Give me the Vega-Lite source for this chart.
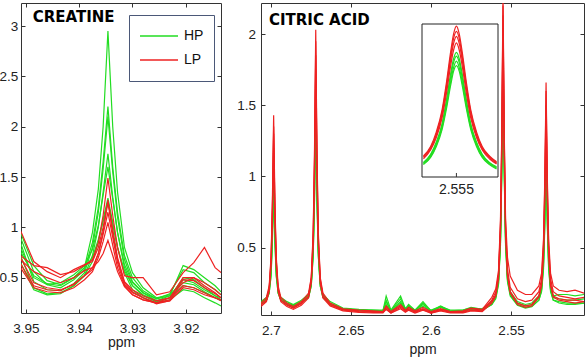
{
"$schema": "https://vega.github.io/schema/vega-lite/v6.json",
"background": "white",
"padding": {"left": -2, "top": 2, "right": 0, "bottom": 0},
"bounds": "flush",
"spacing": 40,
"config": {
  "view": {"stroke": "#333333", "strokeWidth": 1},
  "axis": {"labelFont": "Liberation Sans", "labelFontSize": 13.5, "labelColor": "#222222", "titleFont": "Liberation Sans", "titleFontSize": 14, "titleFontWeight": "normal", "titleColor": "#222222", "domain": false, "grid": false, "tickColor": "#333333", "tickSize": -4, "tickWidth": 1, "labelFlush": false}
},
"resolve": {"scale": {"color": "independent"}, "legend": {"color": "independent"}},
"datasets": {
"creatine": [
{"g":"HP","s":"G1","x":3.951,"y":0.95},{"g":"HP","s":"G1","x":3.9485,"y":0.62},{"g":"HP","s":"G1","x":3.946,"y":0.47},{"g":"HP","s":"G1","x":3.9435,"y":0.43},{"g":"HP","s":"G1","x":3.941,"y":0.5},{"g":"HP","s":"G1","x":3.939,"y":0.6},{"g":"HP","s":"G1","x":3.9375,"y":0.95},{"g":"HP","s":"G1","x":3.9364,"y":1.38},{"g":"HP","s":"G1","x":3.9355,"y":2.0},{"g":"HP","s":"G1","x":3.9346,"y":2.95},{"g":"HP","s":"G1","x":3.9337,"y":2.0},{"g":"HP","s":"G1","x":3.9328,"y":1.35},{"g":"HP","s":"G1","x":3.9315,"y":0.8},{"g":"HP","s":"G1","x":3.93,"y":0.55},{"g":"HP","s":"G1","x":3.928,"y":0.4},{"g":"HP","s":"G1","x":3.9255,"y":0.3},{"g":"HP","s":"G1","x":3.923,"y":0.33},{"g":"HP","s":"G1","x":3.9205,"y":0.45},{"g":"HP","s":"G1","x":3.9185,"y":0.43},{"g":"HP","s":"G1","x":3.9165,"y":0.36},{"g":"HP","s":"G1","x":3.9145,"y":0.3},{"g":"HP","s":"G1","x":3.9134,"y":0.28},
{"g":"HP","s":"G2","x":3.951,"y":0.9},{"g":"HP","s":"G2","x":3.9485,"y":0.56},{"g":"HP","s":"G2","x":3.946,"y":0.43},{"g":"HP","s":"G2","x":3.9435,"y":0.4},{"g":"HP","s":"G2","x":3.941,"y":0.48},{"g":"HP","s":"G2","x":3.939,"y":0.58},{"g":"HP","s":"G2","x":3.9375,"y":0.85},{"g":"HP","s":"G2","x":3.9364,"y":1.2},{"g":"HP","s":"G2","x":3.9355,"y":1.65},{"g":"HP","s":"G2","x":3.9346,"y":2.2},{"g":"HP","s":"G2","x":3.9337,"y":1.6},{"g":"HP","s":"G2","x":3.9328,"y":1.15},{"g":"HP","s":"G2","x":3.9315,"y":0.72},{"g":"HP","s":"G2","x":3.93,"y":0.5},{"g":"HP","s":"G2","x":3.928,"y":0.37},{"g":"HP","s":"G2","x":3.9255,"y":0.29},{"g":"HP","s":"G2","x":3.923,"y":0.32},{"g":"HP","s":"G2","x":3.9205,"y":0.48},{"g":"HP","s":"G2","x":3.9185,"y":0.45},{"g":"HP","s":"G2","x":3.9165,"y":0.38},{"g":"HP","s":"G2","x":3.9145,"y":0.32},{"g":"HP","s":"G2","x":3.9134,"y":0.3},
{"g":"HP","s":"G3","x":3.951,"y":0.85},{"g":"HP","s":"G3","x":3.9485,"y":0.46},{"g":"HP","s":"G3","x":3.946,"y":0.38},{"g":"HP","s":"G3","x":3.9435,"y":0.37},{"g":"HP","s":"G3","x":3.941,"y":0.44},{"g":"HP","s":"G3","x":3.939,"y":0.55},{"g":"HP","s":"G3","x":3.9375,"y":0.8},{"g":"HP","s":"G3","x":3.9364,"y":1.15},{"g":"HP","s":"G3","x":3.9355,"y":1.58},{"g":"HP","s":"G3","x":3.9346,"y":2.1},{"g":"HP","s":"G3","x":3.9337,"y":1.55},{"g":"HP","s":"G3","x":3.9328,"y":1.1},{"g":"HP","s":"G3","x":3.9315,"y":0.68},{"g":"HP","s":"G3","x":3.93,"y":0.46},{"g":"HP","s":"G3","x":3.928,"y":0.35},{"g":"HP","s":"G3","x":3.9255,"y":0.27},{"g":"HP","s":"G3","x":3.923,"y":0.3},{"g":"HP","s":"G3","x":3.9205,"y":0.42},{"g":"HP","s":"G3","x":3.9185,"y":0.4},{"g":"HP","s":"G3","x":3.9165,"y":0.35},{"g":"HP","s":"G3","x":3.9145,"y":0.3},{"g":"HP","s":"G3","x":3.9134,"y":0.27},
{"g":"HP","s":"G4","x":3.951,"y":0.72},{"g":"HP","s":"G4","x":3.9485,"y":0.4},{"g":"HP","s":"G4","x":3.946,"y":0.34},{"g":"HP","s":"G4","x":3.9435,"y":0.35},{"g":"HP","s":"G4","x":3.941,"y":0.42},{"g":"HP","s":"G4","x":3.939,"y":0.52},{"g":"HP","s":"G4","x":3.9375,"y":0.72},{"g":"HP","s":"G4","x":3.9364,"y":1.0},{"g":"HP","s":"G4","x":3.9355,"y":1.35},{"g":"HP","s":"G4","x":3.9346,"y":1.73},{"g":"HP","s":"G4","x":3.9337,"y":1.3},{"g":"HP","s":"G4","x":3.9328,"y":0.95},{"g":"HP","s":"G4","x":3.9315,"y":0.6},{"g":"HP","s":"G4","x":3.93,"y":0.42},{"g":"HP","s":"G4","x":3.928,"y":0.32},{"g":"HP","s":"G4","x":3.9255,"y":0.26},{"g":"HP","s":"G4","x":3.923,"y":0.3},{"g":"HP","s":"G4","x":3.9205,"y":0.5},{"g":"HP","s":"G4","x":3.9185,"y":0.48},{"g":"HP","s":"G4","x":3.9165,"y":0.4},{"g":"HP","s":"G4","x":3.9145,"y":0.32},{"g":"HP","s":"G4","x":3.9134,"y":0.28},
{"g":"HP","s":"G5","x":3.951,"y":0.65},{"g":"HP","s":"G5","x":3.9485,"y":0.38},{"g":"HP","s":"G5","x":3.946,"y":0.33},{"g":"HP","s":"G5","x":3.9435,"y":0.34},{"g":"HP","s":"G5","x":3.941,"y":0.42},{"g":"HP","s":"G5","x":3.939,"y":0.52},{"g":"HP","s":"G5","x":3.9375,"y":0.66},{"g":"HP","s":"G5","x":3.9364,"y":0.85},{"g":"HP","s":"G5","x":3.9355,"y":1.08},{"g":"HP","s":"G5","x":3.9346,"y":1.29},{"g":"HP","s":"G5","x":3.9337,"y":1.05},{"g":"HP","s":"G5","x":3.9328,"y":0.8},{"g":"HP","s":"G5","x":3.9315,"y":0.55},{"g":"HP","s":"G5","x":3.93,"y":0.38},{"g":"HP","s":"G5","x":3.928,"y":0.3},{"g":"HP","s":"G5","x":3.9255,"y":0.25},{"g":"HP","s":"G5","x":3.923,"y":0.28},{"g":"HP","s":"G5","x":3.9205,"y":0.38},{"g":"HP","s":"G5","x":3.9185,"y":0.36},{"g":"HP","s":"G5","x":3.9165,"y":0.3},{"g":"HP","s":"G5","x":3.9145,"y":0.25},{"g":"HP","s":"G5","x":3.9134,"y":0.22},
{"g":"HP","s":"G6","x":3.951,"y":0.8},{"g":"HP","s":"G6","x":3.9485,"y":0.5},{"g":"HP","s":"G6","x":3.946,"y":0.43},{"g":"HP","s":"G6","x":3.9435,"y":0.45},{"g":"HP","s":"G6","x":3.941,"y":0.53},{"g":"HP","s":"G6","x":3.939,"y":0.62},{"g":"HP","s":"G6","x":3.9375,"y":0.78},{"g":"HP","s":"G6","x":3.9364,"y":1.02},{"g":"HP","s":"G6","x":3.9355,"y":1.32},{"g":"HP","s":"G6","x":3.9346,"y":1.6},{"g":"HP","s":"G6","x":3.9337,"y":1.28},{"g":"HP","s":"G6","x":3.9328,"y":0.95},{"g":"HP","s":"G6","x":3.9315,"y":0.63},{"g":"HP","s":"G6","x":3.93,"y":0.45},{"g":"HP","s":"G6","x":3.928,"y":0.35},{"g":"HP","s":"G6","x":3.9255,"y":0.29},{"g":"HP","s":"G6","x":3.923,"y":0.34},{"g":"HP","s":"G6","x":3.9205,"y":0.58},{"g":"HP","s":"G6","x":3.9185,"y":0.55},{"g":"HP","s":"G6","x":3.9165,"y":0.45},{"g":"HP","s":"G6","x":3.9145,"y":0.38},{"g":"HP","s":"G6","x":3.9134,"y":0.33},
{"g":"HP","s":"G7","x":3.951,"y":0.76},{"g":"HP","s":"G7","x":3.9485,"y":0.52},{"g":"HP","s":"G7","x":3.946,"y":0.44},{"g":"HP","s":"G7","x":3.9435,"y":0.42},{"g":"HP","s":"G7","x":3.941,"y":0.5},{"g":"HP","s":"G7","x":3.939,"y":0.6},{"g":"HP","s":"G7","x":3.9375,"y":0.7},{"g":"HP","s":"G7","x":3.9364,"y":0.88},{"g":"HP","s":"G7","x":3.9355,"y":1.06},{"g":"HP","s":"G7","x":3.9346,"y":1.25},{"g":"HP","s":"G7","x":3.9337,"y":1.03},{"g":"HP","s":"G7","x":3.9328,"y":0.8},{"g":"HP","s":"G7","x":3.9315,"y":0.57},{"g":"HP","s":"G7","x":3.93,"y":0.42},{"g":"HP","s":"G7","x":3.928,"y":0.33},{"g":"HP","s":"G7","x":3.9255,"y":0.27},{"g":"HP","s":"G7","x":3.923,"y":0.32},{"g":"HP","s":"G7","x":3.9205,"y":0.62},{"g":"HP","s":"G7","x":3.9185,"y":0.58},{"g":"HP","s":"G7","x":3.9165,"y":0.5},{"g":"HP","s":"G7","x":3.9145,"y":0.42},{"g":"HP","s":"G7","x":3.9134,"y":0.36},
{"g":"LP","s":"R1","x":3.951,"y":0.72},{"g":"LP","s":"R1","x":3.9485,"y":0.62},{"g":"LP","s":"R1","x":3.946,"y":0.6},{"g":"LP","s":"R1","x":3.9435,"y":0.53},{"g":"LP","s":"R1","x":3.941,"y":0.56},{"g":"LP","s":"R1","x":3.939,"y":0.62},{"g":"LP","s":"R1","x":3.9375,"y":0.68},{"g":"LP","s":"R1","x":3.9364,"y":0.85},{"g":"LP","s":"R1","x":3.9355,"y":1.12},{"g":"LP","s":"R1","x":3.9346,"y":1.49},{"g":"LP","s":"R1","x":3.9337,"y":1.12},{"g":"LP","s":"R1","x":3.9328,"y":0.8},{"g":"LP","s":"R1","x":3.9315,"y":0.52},{"g":"LP","s":"R1","x":3.93,"y":0.5},{"g":"LP","s":"R1","x":3.928,"y":0.5},{"g":"LP","s":"R1","x":3.9255,"y":0.33},{"g":"LP","s":"R1","x":3.923,"y":0.36},{"g":"LP","s":"R1","x":3.9205,"y":0.55},{"g":"LP","s":"R1","x":3.9185,"y":0.65},{"g":"LP","s":"R1","x":3.9165,"y":0.8},{"g":"LP","s":"R1","x":3.9145,"y":0.6},{"g":"LP","s":"R1","x":3.9134,"y":0.55},
{"g":"LP","s":"R2","x":3.951,"y":0.97},{"g":"LP","s":"R2","x":3.9485,"y":0.66},{"g":"LP","s":"R2","x":3.946,"y":0.56},{"g":"LP","s":"R2","x":3.9435,"y":0.5},{"g":"LP","s":"R2","x":3.941,"y":0.58},{"g":"LP","s":"R2","x":3.939,"y":0.63},{"g":"LP","s":"R2","x":3.9375,"y":0.66},{"g":"LP","s":"R2","x":3.9364,"y":0.8},{"g":"LP","s":"R2","x":3.9355,"y":1.0},{"g":"LP","s":"R2","x":3.9346,"y":1.27},{"g":"LP","s":"R2","x":3.9337,"y":0.98},{"g":"LP","s":"R2","x":3.9328,"y":0.7},{"g":"LP","s":"R2","x":3.9315,"y":0.46},{"g":"LP","s":"R2","x":3.93,"y":0.38},{"g":"LP","s":"R2","x":3.928,"y":0.32},{"g":"LP","s":"R2","x":3.9255,"y":0.27},{"g":"LP","s":"R2","x":3.923,"y":0.3},{"g":"LP","s":"R2","x":3.9205,"y":0.5},{"g":"LP","s":"R2","x":3.9185,"y":0.5},{"g":"LP","s":"R2","x":3.9165,"y":0.42},{"g":"LP","s":"R2","x":3.9145,"y":0.35},{"g":"LP","s":"R2","x":3.9134,"y":0.3},
{"g":"LP","s":"R3","x":3.951,"y":0.7},{"g":"LP","s":"R3","x":3.9485,"y":0.45},{"g":"LP","s":"R3","x":3.946,"y":0.4},{"g":"LP","s":"R3","x":3.9435,"y":0.38},{"g":"LP","s":"R3","x":3.941,"y":0.43},{"g":"LP","s":"R3","x":3.939,"y":0.52},{"g":"LP","s":"R3","x":3.9375,"y":0.58},{"g":"LP","s":"R3","x":3.9364,"y":0.74},{"g":"LP","s":"R3","x":3.9355,"y":0.96},{"g":"LP","s":"R3","x":3.9346,"y":1.25},{"g":"LP","s":"R3","x":3.9337,"y":0.94},{"g":"LP","s":"R3","x":3.9328,"y":0.68},{"g":"LP","s":"R3","x":3.9315,"y":0.45},{"g":"LP","s":"R3","x":3.93,"y":0.36},{"g":"LP","s":"R3","x":3.928,"y":0.3},{"g":"LP","s":"R3","x":3.9255,"y":0.25},{"g":"LP","s":"R3","x":3.923,"y":0.28},{"g":"LP","s":"R3","x":3.9205,"y":0.42},{"g":"LP","s":"R3","x":3.9185,"y":0.4},{"g":"LP","s":"R3","x":3.9165,"y":0.35},{"g":"LP","s":"R3","x":3.9145,"y":0.3},{"g":"LP","s":"R3","x":3.9134,"y":0.27},
{"g":"LP","s":"R4","x":3.951,"y":0.64},{"g":"LP","s":"R4","x":3.9485,"y":0.42},{"g":"LP","s":"R4","x":3.946,"y":0.38},{"g":"LP","s":"R4","x":3.9435,"y":0.37},{"g":"LP","s":"R4","x":3.941,"y":0.44},{"g":"LP","s":"R4","x":3.939,"y":0.52},{"g":"LP","s":"R4","x":3.9375,"y":0.6},{"g":"LP","s":"R4","x":3.9364,"y":0.74},{"g":"LP","s":"R4","x":3.9355,"y":0.93},{"g":"LP","s":"R4","x":3.9346,"y":1.15},{"g":"LP","s":"R4","x":3.9337,"y":0.9},{"g":"LP","s":"R4","x":3.9328,"y":0.65},{"g":"LP","s":"R4","x":3.9315,"y":0.43},{"g":"LP","s":"R4","x":3.93,"y":0.35},{"g":"LP","s":"R4","x":3.928,"y":0.3},{"g":"LP","s":"R4","x":3.9255,"y":0.24},{"g":"LP","s":"R4","x":3.923,"y":0.27},{"g":"LP","s":"R4","x":3.9205,"y":0.48},{"g":"LP","s":"R4","x":3.9185,"y":0.47},{"g":"LP","s":"R4","x":3.9165,"y":0.4},{"g":"LP","s":"R4","x":3.9145,"y":0.34},{"g":"LP","s":"R4","x":3.9134,"y":0.3},
{"g":"LP","s":"R5","x":3.951,"y":0.6},{"g":"LP","s":"R5","x":3.9485,"y":0.4},{"g":"LP","s":"R5","x":3.946,"y":0.36},{"g":"LP","s":"R5","x":3.9435,"y":0.35},{"g":"LP","s":"R5","x":3.941,"y":0.4},{"g":"LP","s":"R5","x":3.939,"y":0.48},{"g":"LP","s":"R5","x":3.9375,"y":0.56},{"g":"LP","s":"R5","x":3.9364,"y":0.7},{"g":"LP","s":"R5","x":3.9355,"y":0.86},{"g":"LP","s":"R5","x":3.9346,"y":1.05},{"g":"LP","s":"R5","x":3.9337,"y":0.82},{"g":"LP","s":"R5","x":3.9328,"y":0.6},{"g":"LP","s":"R5","x":3.9315,"y":0.42},{"g":"LP","s":"R5","x":3.93,"y":0.33},{"g":"LP","s":"R5","x":3.928,"y":0.28},{"g":"LP","s":"R5","x":3.9255,"y":0.25},{"g":"LP","s":"R5","x":3.923,"y":0.27},{"g":"LP","s":"R5","x":3.9205,"y":0.4},{"g":"LP","s":"R5","x":3.9185,"y":0.38},{"g":"LP","s":"R5","x":3.9165,"y":0.33},{"g":"LP","s":"R5","x":3.9145,"y":0.3},{"g":"LP","s":"R5","x":3.9134,"y":0.28},
{"g":"LP","s":"R6","x":3.951,"y":0.68},{"g":"LP","s":"R6","x":3.9485,"y":0.56},{"g":"LP","s":"R6","x":3.946,"y":0.5},{"g":"LP","s":"R6","x":3.9435,"y":0.45},{"g":"LP","s":"R6","x":3.941,"y":0.5},{"g":"LP","s":"R6","x":3.939,"y":0.57},{"g":"LP","s":"R6","x":3.9375,"y":0.6},{"g":"LP","s":"R6","x":3.9364,"y":0.66},{"g":"LP","s":"R6","x":3.9355,"y":0.74},{"g":"LP","s":"R6","x":3.9346,"y":0.87},{"g":"LP","s":"R6","x":3.9337,"y":0.72},{"g":"LP","s":"R6","x":3.9328,"y":0.56},{"g":"LP","s":"R6","x":3.9315,"y":0.41},{"g":"LP","s":"R6","x":3.93,"y":0.33},{"g":"LP","s":"R6","x":3.928,"y":0.28},{"g":"LP","s":"R6","x":3.9255,"y":0.25},{"g":"LP","s":"R6","x":3.923,"y":0.3},{"g":"LP","s":"R6","x":3.9205,"y":0.45},{"g":"LP","s":"R6","x":3.9185,"y":0.5},{"g":"LP","s":"R6","x":3.9165,"y":0.45},{"g":"LP","s":"R6","x":3.9145,"y":0.38},{"g":"LP","s":"R6","x":3.9134,"y":0.33}
],
"citric": [
{"g":"HP","s":"G1","x":2.7062,"y":0.11},{"g":"HP","s":"G1","x":2.7028,"y":0.14},{"g":"HP","s":"G1","x":2.7011,"y":0.2},{"g":"HP","s":"G1","x":2.6999,"y":0.35},{"g":"HP","s":"G1","x":2.6991,"y":0.62},{"g":"HP","s":"G1","x":2.6983,"y":1.05},{"g":"HP","s":"G1","x":2.6975,"y":0.62},{"g":"HP","s":"G1","x":2.6967,"y":0.35},{"g":"HP","s":"G1","x":2.6955,"y":0.2},{"g":"HP","s":"G1","x":2.6938,"y":0.14},{"g":"HP","s":"G1","x":2.69,"y":0.11},{"g":"HP","s":"G1","x":2.686,"y":0.095},{"g":"HP","s":"G1","x":2.681,"y":0.12},{"g":"HP","s":"G1","x":2.6765,"y":0.17},{"g":"HP","s":"G1","x":2.6748,"y":0.25},{"g":"HP","s":"G1","x":2.6736,"y":0.49},{"g":"HP","s":"G1","x":2.6728,"y":0.91},{"g":"HP","s":"G1","x":2.672,"y":1.58},{"g":"HP","s":"G1","x":2.6712,"y":0.91},{"g":"HP","s":"G1","x":2.6704,"y":0.49},{"g":"HP","s":"G1","x":2.6692,"y":0.25},{"g":"HP","s":"G1","x":2.6675,"y":0.17},{"g":"HP","s":"G1","x":2.663,"y":0.11},{"g":"HP","s":"G1","x":2.655,"y":0.07},{"g":"HP","s":"G1","x":2.645,"y":0.06},{"g":"HP","s":"G1","x":2.636,"y":0.06},{"g":"HP","s":"G1","x":2.63,"y":0.055},{"g":"HP","s":"G1","x":2.628,"y":0.16},{"g":"HP","s":"G1","x":2.625,"y":0.06},{"g":"HP","s":"G1","x":2.619,"y":0.16},{"g":"HP","s":"G1","x":2.616,"y":0.07},{"g":"HP","s":"G1","x":2.614,"y":0.1},{"g":"HP","s":"G1","x":2.61,"y":0.06},{"g":"HP","s":"G1","x":2.605,"y":0.12},{"g":"HP","s":"G1","x":2.6,"y":0.055},{"g":"HP","s":"G1","x":2.594,"y":0.09},{"g":"HP","s":"G1","x":2.588,"y":0.055},{"g":"HP","s":"G1","x":2.58,"y":0.06},{"g":"HP","s":"G1","x":2.575,"y":0.08},{"g":"HP","s":"G1","x":2.568,"y":0.065},{"g":"HP","s":"G1","x":2.562,"y":0.12},{"g":"HP","s":"G1","x":2.5595,"y":0.16},{"g":"HP","s":"G1","x":2.5578,"y":0.27},{"g":"HP","s":"G1","x":2.5566,"y":0.57},{"g":"HP","s":"G1","x":2.5558,"y":1.08},{"g":"HP","s":"G1","x":2.555,"y":1.91},{"g":"HP","s":"G1","x":2.5542,"y":1.08},{"g":"HP","s":"G1","x":2.5534,"y":0.57},{"g":"HP","s":"G1","x":2.5522,"y":0.29},{"g":"HP","s":"G1","x":2.5505,"y":0.19},{"g":"HP","s":"G1","x":2.546,"y":0.12},{"g":"HP","s":"G1","x":2.541,"y":0.1},{"g":"HP","s":"G1","x":2.537,"y":0.11},{"g":"HP","s":"G1","x":2.5326,"y":0.16},{"g":"HP","s":"G1","x":2.5309,"y":0.23},{"g":"HP","s":"G1","x":2.5297,"y":0.42},{"g":"HP","s":"G1","x":2.5289,"y":0.76},{"g":"HP","s":"G1","x":2.5281,"y":1.3},{"g":"HP","s":"G1","x":2.5273,"y":0.76},{"g":"HP","s":"G1","x":2.5265,"y":0.42},{"g":"HP","s":"G1","x":2.5253,"y":0.23},{"g":"HP","s":"G1","x":2.5236,"y":0.16},{"g":"HP","s":"G1","x":2.52,"y":0.17},{"g":"HP","s":"G1","x":2.515,"y":0.17},{"g":"HP","s":"G1","x":2.51,"y":0.16},{"g":"HP","s":"G1","x":2.5044,"y":0.17},
{"g":"HP","s":"G2","x":2.7062,"y":0.12},{"g":"HP","s":"G2","x":2.7028,"y":0.15},{"g":"HP","s":"G2","x":2.7011,"y":0.2},{"g":"HP","s":"G2","x":2.6999,"y":0.34},{"g":"HP","s":"G2","x":2.6991,"y":0.6},{"g":"HP","s":"G2","x":2.6983,"y":1.0},{"g":"HP","s":"G2","x":2.6975,"y":0.6},{"g":"HP","s":"G2","x":2.6967,"y":0.34},{"g":"HP","s":"G2","x":2.6955,"y":0.2},{"g":"HP","s":"G2","x":2.6938,"y":0.15},{"g":"HP","s":"G2","x":2.69,"y":0.12},{"g":"HP","s":"G2","x":2.686,"y":0.1},{"g":"HP","s":"G2","x":2.681,"y":0.13},{"g":"HP","s":"G2","x":2.6765,"y":0.17},{"g":"HP","s":"G2","x":2.6748,"y":0.25},{"g":"HP","s":"G2","x":2.6736,"y":0.48},{"g":"HP","s":"G2","x":2.6728,"y":0.87},{"g":"HP","s":"G2","x":2.672,"y":1.5},{"g":"HP","s":"G2","x":2.6712,"y":0.87},{"g":"HP","s":"G2","x":2.6704,"y":0.48},{"g":"HP","s":"G2","x":2.6692,"y":0.25},{"g":"HP","s":"G2","x":2.6675,"y":0.17},{"g":"HP","s":"G2","x":2.663,"y":0.12},{"g":"HP","s":"G2","x":2.655,"y":0.075},{"g":"HP","s":"G2","x":2.645,"y":0.065},{"g":"HP","s":"G2","x":2.636,"y":0.06},{"g":"HP","s":"G2","x":2.63,"y":0.06},{"g":"HP","s":"G2","x":2.628,"y":0.12},{"g":"HP","s":"G2","x":2.625,"y":0.055},{"g":"HP","s":"G2","x":2.619,"y":0.14},{"g":"HP","s":"G2","x":2.616,"y":0.065},{"g":"HP","s":"G2","x":2.614,"y":0.09},{"g":"HP","s":"G2","x":2.61,"y":0.06},{"g":"HP","s":"G2","x":2.605,"y":0.1},{"g":"HP","s":"G2","x":2.6,"y":0.06},{"g":"HP","s":"G2","x":2.594,"y":0.085},{"g":"HP","s":"G2","x":2.588,"y":0.06},{"g":"HP","s":"G2","x":2.58,"y":0.06},{"g":"HP","s":"G2","x":2.575,"y":0.075},{"g":"HP","s":"G2","x":2.568,"y":0.07},{"g":"HP","s":"G2","x":2.562,"y":0.12},{"g":"HP","s":"G2","x":2.5595,"y":0.16},{"g":"HP","s":"G2","x":2.5578,"y":0.27},{"g":"HP","s":"G2","x":2.5566,"y":0.55},{"g":"HP","s":"G2","x":2.5558,"y":1.05},{"g":"HP","s":"G2","x":2.555,"y":1.86},{"g":"HP","s":"G2","x":2.5542,"y":1.05},{"g":"HP","s":"G2","x":2.5534,"y":0.55},{"g":"HP","s":"G2","x":2.5522,"y":0.28},{"g":"HP","s":"G2","x":2.5505,"y":0.18},{"g":"HP","s":"G2","x":2.546,"y":0.11},{"g":"HP","s":"G2","x":2.541,"y":0.09},{"g":"HP","s":"G2","x":2.537,"y":0.1},{"g":"HP","s":"G2","x":2.5326,"y":0.15},{"g":"HP","s":"G2","x":2.5309,"y":0.21},{"g":"HP","s":"G2","x":2.5297,"y":0.4},{"g":"HP","s":"G2","x":2.5289,"y":0.71},{"g":"HP","s":"G2","x":2.5281,"y":1.22},{"g":"HP","s":"G2","x":2.5273,"y":0.71},{"g":"HP","s":"G2","x":2.5265,"y":0.4},{"g":"HP","s":"G2","x":2.5253,"y":0.21},{"g":"HP","s":"G2","x":2.5236,"y":0.15},{"g":"HP","s":"G2","x":2.52,"y":0.14},{"g":"HP","s":"G2","x":2.515,"y":0.13},{"g":"HP","s":"G2","x":2.51,"y":0.13},{"g":"HP","s":"G2","x":2.5044,"y":0.14},
{"g":"HP","s":"G3","x":2.7062,"y":0.1},{"g":"HP","s":"G3","x":2.7028,"y":0.13},{"g":"HP","s":"G3","x":2.7011,"y":0.18},{"g":"HP","s":"G3","x":2.6999,"y":0.31},{"g":"HP","s":"G3","x":2.6991,"y":0.56},{"g":"HP","s":"G3","x":2.6983,"y":0.95},{"g":"HP","s":"G3","x":2.6975,"y":0.56},{"g":"HP","s":"G3","x":2.6967,"y":0.31},{"g":"HP","s":"G3","x":2.6955,"y":0.18},{"g":"HP","s":"G3","x":2.6938,"y":0.13},{"g":"HP","s":"G3","x":2.69,"y":0.1},{"g":"HP","s":"G3","x":2.686,"y":0.085},{"g":"HP","s":"G3","x":2.681,"y":0.11},{"g":"HP","s":"G3","x":2.6765,"y":0.15},{"g":"HP","s":"G3","x":2.6748,"y":0.23},{"g":"HP","s":"G3","x":2.6736,"y":0.45},{"g":"HP","s":"G3","x":2.6728,"y":0.83},{"g":"HP","s":"G3","x":2.672,"y":1.45},{"g":"HP","s":"G3","x":2.6712,"y":0.83},{"g":"HP","s":"G3","x":2.6704,"y":0.45},{"g":"HP","s":"G3","x":2.6692,"y":0.23},{"g":"HP","s":"G3","x":2.6675,"y":0.15},{"g":"HP","s":"G3","x":2.663,"y":0.1},{"g":"HP","s":"G3","x":2.655,"y":0.065},{"g":"HP","s":"G3","x":2.645,"y":0.055},{"g":"HP","s":"G3","x":2.636,"y":0.05},{"g":"HP","s":"G3","x":2.63,"y":0.05},{"g":"HP","s":"G3","x":2.628,"y":0.1},{"g":"HP","s":"G3","x":2.625,"y":0.05},{"g":"HP","s":"G3","x":2.619,"y":0.11},{"g":"HP","s":"G3","x":2.616,"y":0.06},{"g":"HP","s":"G3","x":2.614,"y":0.08},{"g":"HP","s":"G3","x":2.61,"y":0.05},{"g":"HP","s":"G3","x":2.605,"y":0.09},{"g":"HP","s":"G3","x":2.6,"y":0.05},{"g":"HP","s":"G3","x":2.594,"y":0.08},{"g":"HP","s":"G3","x":2.588,"y":0.05},{"g":"HP","s":"G3","x":2.58,"y":0.05},{"g":"HP","s":"G3","x":2.575,"y":0.065},{"g":"HP","s":"G3","x":2.568,"y":0.06},{"g":"HP","s":"G3","x":2.562,"y":0.1},{"g":"HP","s":"G3","x":2.5595,"y":0.15},{"g":"HP","s":"G3","x":2.5578,"y":0.25},{"g":"HP","s":"G3","x":2.5566,"y":0.53},{"g":"HP","s":"G3","x":2.5558,"y":1.01},{"g":"HP","s":"G3","x":2.555,"y":1.79},{"g":"HP","s":"G3","x":2.5542,"y":1.01},{"g":"HP","s":"G3","x":2.5534,"y":0.53},{"g":"HP","s":"G3","x":2.5522,"y":0.27},{"g":"HP","s":"G3","x":2.5505,"y":0.17},{"g":"HP","s":"G3","x":2.546,"y":0.1},{"g":"HP","s":"G3","x":2.541,"y":0.08},{"g":"HP","s":"G3","x":2.537,"y":0.09},{"g":"HP","s":"G3","x":2.5326,"y":0.13},{"g":"HP","s":"G3","x":2.5309,"y":0.2},{"g":"HP","s":"G3","x":2.5297,"y":0.37},{"g":"HP","s":"G3","x":2.5289,"y":0.67},{"g":"HP","s":"G3","x":2.5281,"y":1.15},{"g":"HP","s":"G3","x":2.5273,"y":0.67},{"g":"HP","s":"G3","x":2.5265,"y":0.37},{"g":"HP","s":"G3","x":2.5253,"y":0.2},{"g":"HP","s":"G3","x":2.5236,"y":0.13},{"g":"HP","s":"G3","x":2.52,"y":0.12},{"g":"HP","s":"G3","x":2.515,"y":0.11},{"g":"HP","s":"G3","x":2.51,"y":0.11},{"g":"HP","s":"G3","x":2.5044,"y":0.11},
{"g":"HP","s":"G4","x":2.7062,"y":0.1},{"g":"HP","s":"G4","x":2.7028,"y":0.13},{"g":"HP","s":"G4","x":2.7011,"y":0.18},{"g":"HP","s":"G4","x":2.6999,"y":0.3},{"g":"HP","s":"G4","x":2.6991,"y":0.53},{"g":"HP","s":"G4","x":2.6983,"y":0.9},{"g":"HP","s":"G4","x":2.6975,"y":0.53},{"g":"HP","s":"G4","x":2.6967,"y":0.3},{"g":"HP","s":"G4","x":2.6955,"y":0.18},{"g":"HP","s":"G4","x":2.6938,"y":0.13},{"g":"HP","s":"G4","x":2.69,"y":0.1},{"g":"HP","s":"G4","x":2.686,"y":0.09},{"g":"HP","s":"G4","x":2.681,"y":0.11},{"g":"HP","s":"G4","x":2.6765,"y":0.15},{"g":"HP","s":"G4","x":2.6748,"y":0.23},{"g":"HP","s":"G4","x":2.6736,"y":0.44},{"g":"HP","s":"G4","x":2.6728,"y":0.81},{"g":"HP","s":"G4","x":2.672,"y":1.4},{"g":"HP","s":"G4","x":2.6712,"y":0.81},{"g":"HP","s":"G4","x":2.6704,"y":0.44},{"g":"HP","s":"G4","x":2.6692,"y":0.23},{"g":"HP","s":"G4","x":2.6675,"y":0.15},{"g":"HP","s":"G4","x":2.663,"y":0.1},{"g":"HP","s":"G4","x":2.655,"y":0.07},{"g":"HP","s":"G4","x":2.645,"y":0.06},{"g":"HP","s":"G4","x":2.636,"y":0.055},{"g":"HP","s":"G4","x":2.63,"y":0.05},{"g":"HP","s":"G4","x":2.628,"y":0.13},{"g":"HP","s":"G4","x":2.625,"y":0.05},{"g":"HP","s":"G4","x":2.619,"y":0.12},{"g":"HP","s":"G4","x":2.616,"y":0.06},{"g":"HP","s":"G4","x":2.614,"y":0.085},{"g":"HP","s":"G4","x":2.61,"y":0.055},{"g":"HP","s":"G4","x":2.605,"y":0.11},{"g":"HP","s":"G4","x":2.6,"y":0.05},{"g":"HP","s":"G4","x":2.594,"y":0.085},{"g":"HP","s":"G4","x":2.588,"y":0.05},{"g":"HP","s":"G4","x":2.58,"y":0.055},{"g":"HP","s":"G4","x":2.575,"y":0.07},{"g":"HP","s":"G4","x":2.568,"y":0.06},{"g":"HP","s":"G4","x":2.562,"y":0.1},{"g":"HP","s":"G4","x":2.5595,"y":0.14},{"g":"HP","s":"G4","x":2.5578,"y":0.24},{"g":"HP","s":"G4","x":2.5566,"y":0.51},{"g":"HP","s":"G4","x":2.5558,"y":0.98},{"g":"HP","s":"G4","x":2.555,"y":1.73},{"g":"HP","s":"G4","x":2.5542,"y":0.98},{"g":"HP","s":"G4","x":2.5534,"y":0.51},{"g":"HP","s":"G4","x":2.5522,"y":0.26},{"g":"HP","s":"G4","x":2.5505,"y":0.16},{"g":"HP","s":"G4","x":2.546,"y":0.095},{"g":"HP","s":"G4","x":2.541,"y":0.075},{"g":"HP","s":"G4","x":2.537,"y":0.085},{"g":"HP","s":"G4","x":2.5326,"y":0.13},{"g":"HP","s":"G4","x":2.5309,"y":0.19},{"g":"HP","s":"G4","x":2.5297,"y":0.35},{"g":"HP","s":"G4","x":2.5289,"y":0.64},{"g":"HP","s":"G4","x":2.5281,"y":1.1},{"g":"HP","s":"G4","x":2.5273,"y":0.64},{"g":"HP","s":"G4","x":2.5265,"y":0.35},{"g":"HP","s":"G4","x":2.5253,"y":0.19},{"g":"HP","s":"G4","x":2.5236,"y":0.13},{"g":"HP","s":"G4","x":2.52,"y":0.11},{"g":"HP","s":"G4","x":2.515,"y":0.1},{"g":"HP","s":"G4","x":2.51,"y":0.1},{"g":"HP","s":"G4","x":2.5044,"y":0.11},
{"g":"LP","s":"R1","x":2.7062,"y":0.11},{"g":"LP","s":"R1","x":2.7028,"y":0.15},{"g":"LP","s":"R1","x":2.7011,"y":0.23},{"g":"LP","s":"R1","x":2.6999,"y":0.44},{"g":"LP","s":"R1","x":2.6991,"y":0.82},{"g":"LP","s":"R1","x":2.6983,"y":1.43},{"g":"LP","s":"R1","x":2.6975,"y":0.82},{"g":"LP","s":"R1","x":2.6967,"y":0.44},{"g":"LP","s":"R1","x":2.6955,"y":0.23},{"g":"LP","s":"R1","x":2.6938,"y":0.15},{"g":"LP","s":"R1","x":2.69,"y":0.11},{"g":"LP","s":"R1","x":2.686,"y":0.085},{"g":"LP","s":"R1","x":2.681,"y":0.12},{"g":"LP","s":"R1","x":2.6765,"y":0.18},{"g":"LP","s":"R1","x":2.6748,"y":0.29},{"g":"LP","s":"R1","x":2.6736,"y":0.61},{"g":"LP","s":"R1","x":2.6728,"y":1.15},{"g":"LP","s":"R1","x":2.672,"y":2.03},{"g":"LP","s":"R1","x":2.6712,"y":1.15},{"g":"LP","s":"R1","x":2.6704,"y":0.61},{"g":"LP","s":"R1","x":2.6692,"y":0.29},{"g":"LP","s":"R1","x":2.6675,"y":0.18},{"g":"LP","s":"R1","x":2.663,"y":0.11},{"g":"LP","s":"R1","x":2.655,"y":0.07},{"g":"LP","s":"R1","x":2.645,"y":0.06},{"g":"LP","s":"R1","x":2.636,"y":0.055},{"g":"LP","s":"R1","x":2.63,"y":0.05},{"g":"LP","s":"R1","x":2.628,"y":0.09},{"g":"LP","s":"R1","x":2.625,"y":0.05},{"g":"LP","s":"R1","x":2.619,"y":0.1},{"g":"LP","s":"R1","x":2.616,"y":0.06},{"g":"LP","s":"R1","x":2.614,"y":0.08},{"g":"LP","s":"R1","x":2.61,"y":0.055},{"g":"LP","s":"R1","x":2.605,"y":0.08},{"g":"LP","s":"R1","x":2.6,"y":0.05},{"g":"LP","s":"R1","x":2.594,"y":0.07},{"g":"LP","s":"R1","x":2.588,"y":0.05},{"g":"LP","s":"R1","x":2.58,"y":0.055},{"g":"LP","s":"R1","x":2.575,"y":0.075},{"g":"LP","s":"R1","x":2.568,"y":0.065},{"g":"LP","s":"R1","x":2.562,"y":0.15},{"g":"LP","s":"R1","x":2.5595,"y":0.21},{"g":"LP","s":"R1","x":2.5578,"y":0.34},{"g":"LP","s":"R1","x":2.5566,"y":0.69},{"g":"LP","s":"R1","x":2.5558,"y":1.29},{"g":"LP","s":"R1","x":2.555,"y":2.27},{"g":"LP","s":"R1","x":2.5542,"y":1.29},{"g":"LP","s":"R1","x":2.5534,"y":0.7},{"g":"LP","s":"R1","x":2.5522,"y":0.43},{"g":"LP","s":"R1","x":2.5505,"y":0.3},{"g":"LP","s":"R1","x":2.546,"y":0.2},{"g":"LP","s":"R1","x":2.541,"y":0.17},{"g":"LP","s":"R1","x":2.537,"y":0.17},{"g":"LP","s":"R1","x":2.5326,"y":0.23},{"g":"LP","s":"R1","x":2.5309,"y":0.32},{"g":"LP","s":"R1","x":2.5297,"y":0.56},{"g":"LP","s":"R1","x":2.5289,"y":0.98},{"g":"LP","s":"R1","x":2.5281,"y":1.66},{"g":"LP","s":"R1","x":2.5273,"y":0.98},{"g":"LP","s":"R1","x":2.5265,"y":0.56},{"g":"LP","s":"R1","x":2.5253,"y":0.32},{"g":"LP","s":"R1","x":2.5236,"y":0.23},{"g":"LP","s":"R1","x":2.52,"y":0.2},{"g":"LP","s":"R1","x":2.515,"y":0.19},{"g":"LP","s":"R1","x":2.51,"y":0.2},{"g":"LP","s":"R1","x":2.5044,"y":0.18},
{"g":"LP","s":"R2","x":2.7062,"y":0.1},{"g":"LP","s":"R2","x":2.7028,"y":0.13},{"g":"LP","s":"R2","x":2.7011,"y":0.21},{"g":"LP","s":"R2","x":2.6999,"y":0.42},{"g":"LP","s":"R2","x":2.6991,"y":0.77},{"g":"LP","s":"R2","x":2.6983,"y":1.35},{"g":"LP","s":"R2","x":2.6975,"y":0.77},{"g":"LP","s":"R2","x":2.6967,"y":0.42},{"g":"LP","s":"R2","x":2.6955,"y":0.21},{"g":"LP","s":"R2","x":2.6938,"y":0.13},{"g":"LP","s":"R2","x":2.69,"y":0.1},{"g":"LP","s":"R2","x":2.686,"y":0.075},{"g":"LP","s":"R2","x":2.681,"y":0.11},{"g":"LP","s":"R2","x":2.6765,"y":0.16},{"g":"LP","s":"R2","x":2.6748,"y":0.28},{"g":"LP","s":"R2","x":2.6736,"y":0.58},{"g":"LP","s":"R2","x":2.6728,"y":1.1},{"g":"LP","s":"R2","x":2.672,"y":1.95},{"g":"LP","s":"R2","x":2.6712,"y":1.1},{"g":"LP","s":"R2","x":2.6704,"y":0.58},{"g":"LP","s":"R2","x":2.6692,"y":0.28},{"g":"LP","s":"R2","x":2.6675,"y":0.16},{"g":"LP","s":"R2","x":2.663,"y":0.1},{"g":"LP","s":"R2","x":2.655,"y":0.065},{"g":"LP","s":"R2","x":2.645,"y":0.055},{"g":"LP","s":"R2","x":2.636,"y":0.05},{"g":"LP","s":"R2","x":2.63,"y":0.05},{"g":"LP","s":"R2","x":2.628,"y":0.08},{"g":"LP","s":"R2","x":2.625,"y":0.045},{"g":"LP","s":"R2","x":2.619,"y":0.09},{"g":"LP","s":"R2","x":2.616,"y":0.055},{"g":"LP","s":"R2","x":2.614,"y":0.07},{"g":"LP","s":"R2","x":2.61,"y":0.05},{"g":"LP","s":"R2","x":2.605,"y":0.07},{"g":"LP","s":"R2","x":2.6,"y":0.045},{"g":"LP","s":"R2","x":2.594,"y":0.065},{"g":"LP","s":"R2","x":2.588,"y":0.05},{"g":"LP","s":"R2","x":2.58,"y":0.05},{"g":"LP","s":"R2","x":2.575,"y":0.07},{"g":"LP","s":"R2","x":2.568,"y":0.06},{"g":"LP","s":"R2","x":2.562,"y":0.13},{"g":"LP","s":"R2","x":2.5595,"y":0.19},{"g":"LP","s":"R2","x":2.5578,"y":0.31},{"g":"LP","s":"R2","x":2.5566,"y":0.65},{"g":"LP","s":"R2","x":2.5558,"y":1.25},{"g":"LP","s":"R2","x":2.555,"y":2.2},{"g":"LP","s":"R2","x":2.5542,"y":1.25},{"g":"LP","s":"R2","x":2.5534,"y":0.65},{"g":"LP","s":"R2","x":2.5522,"y":0.35},{"g":"LP","s":"R2","x":2.5505,"y":0.22},{"g":"LP","s":"R2","x":2.546,"y":0.14},{"g":"LP","s":"R2","x":2.541,"y":0.12},{"g":"LP","s":"R2","x":2.537,"y":0.13},{"g":"LP","s":"R2","x":2.5326,"y":0.19},{"g":"LP","s":"R2","x":2.5309,"y":0.28},{"g":"LP","s":"R2","x":2.5297,"y":0.52},{"g":"LP","s":"R2","x":2.5289,"y":0.93},{"g":"LP","s":"R2","x":2.5281,"y":1.6},{"g":"LP","s":"R2","x":2.5273,"y":0.93},{"g":"LP","s":"R2","x":2.5265,"y":0.52},{"g":"LP","s":"R2","x":2.5253,"y":0.28},{"g":"LP","s":"R2","x":2.5236,"y":0.19},{"g":"LP","s":"R2","x":2.52,"y":0.16},{"g":"LP","s":"R2","x":2.515,"y":0.15},{"g":"LP","s":"R2","x":2.51,"y":0.14},{"g":"LP","s":"R2","x":2.5044,"y":0.15},
{"g":"LP","s":"R3","x":2.7062,"y":0.095},{"g":"LP","s":"R3","x":2.7028,"y":0.13},{"g":"LP","s":"R3","x":2.7011,"y":0.21},{"g":"LP","s":"R3","x":2.6999,"y":0.4},{"g":"LP","s":"R3","x":2.6991,"y":0.75},{"g":"LP","s":"R3","x":2.6983,"y":1.3},{"g":"LP","s":"R3","x":2.6975,"y":0.75},{"g":"LP","s":"R3","x":2.6967,"y":0.4},{"g":"LP","s":"R3","x":2.6955,"y":0.21},{"g":"LP","s":"R3","x":2.6938,"y":0.13},{"g":"LP","s":"R3","x":2.69,"y":0.095},{"g":"LP","s":"R3","x":2.686,"y":0.075},{"g":"LP","s":"R3","x":2.681,"y":0.105},{"g":"LP","s":"R3","x":2.6765,"y":0.16},{"g":"LP","s":"R3","x":2.6748,"y":0.27},{"g":"LP","s":"R3","x":2.6736,"y":0.55},{"g":"LP","s":"R3","x":2.6728,"y":1.05},{"g":"LP","s":"R3","x":2.672,"y":1.85},{"g":"LP","s":"R3","x":2.6712,"y":1.05},{"g":"LP","s":"R3","x":2.6704,"y":0.55},{"g":"LP","s":"R3","x":2.6692,"y":0.27},{"g":"LP","s":"R3","x":2.6675,"y":0.16},{"g":"LP","s":"R3","x":2.663,"y":0.1},{"g":"LP","s":"R3","x":2.655,"y":0.06},{"g":"LP","s":"R3","x":2.645,"y":0.05},{"g":"LP","s":"R3","x":2.636,"y":0.045},{"g":"LP","s":"R3","x":2.63,"y":0.045},{"g":"LP","s":"R3","x":2.628,"y":0.07},{"g":"LP","s":"R3","x":2.625,"y":0.04},{"g":"LP","s":"R3","x":2.619,"y":0.08},{"g":"LP","s":"R3","x":2.616,"y":0.05},{"g":"LP","s":"R3","x":2.614,"y":0.065},{"g":"LP","s":"R3","x":2.61,"y":0.045},{"g":"LP","s":"R3","x":2.605,"y":0.065},{"g":"LP","s":"R3","x":2.6,"y":0.04},{"g":"LP","s":"R3","x":2.594,"y":0.06},{"g":"LP","s":"R3","x":2.588,"y":0.045},{"g":"LP","s":"R3","x":2.58,"y":0.045},{"g":"LP","s":"R3","x":2.575,"y":0.06},{"g":"LP","s":"R3","x":2.568,"y":0.055},{"g":"LP","s":"R3","x":2.562,"y":0.12},{"g":"LP","s":"R3","x":2.5595,"y":0.17},{"g":"LP","s":"R3","x":2.5578,"y":0.3},{"g":"LP","s":"R3","x":2.5566,"y":0.63},{"g":"LP","s":"R3","x":2.5558,"y":1.2},{"g":"LP","s":"R3","x":2.555,"y":2.13},{"g":"LP","s":"R3","x":2.5542,"y":1.2},{"g":"LP","s":"R3","x":2.5534,"y":0.63},{"g":"LP","s":"R3","x":2.5522,"y":0.31},{"g":"LP","s":"R3","x":2.5505,"y":0.19},{"g":"LP","s":"R3","x":2.546,"y":0.11},{"g":"LP","s":"R3","x":2.541,"y":0.09},{"g":"LP","s":"R3","x":2.537,"y":0.1},{"g":"LP","s":"R3","x":2.5326,"y":0.16},{"g":"LP","s":"R3","x":2.5309,"y":0.25},{"g":"LP","s":"R3","x":2.5297,"y":0.47},{"g":"LP","s":"R3","x":2.5289,"y":0.87},{"g":"LP","s":"R3","x":2.5281,"y":1.5},{"g":"LP","s":"R3","x":2.5273,"y":0.87},{"g":"LP","s":"R3","x":2.5265,"y":0.47},{"g":"LP","s":"R3","x":2.5253,"y":0.25},{"g":"LP","s":"R3","x":2.5236,"y":0.16},{"g":"LP","s":"R3","x":2.52,"y":0.14},{"g":"LP","s":"R3","x":2.515,"y":0.13},{"g":"LP","s":"R3","x":2.51,"y":0.13},{"g":"LP","s":"R3","x":2.5044,"y":0.12},
{"g":"LP","s":"R4","x":2.7062,"y":0.085},{"g":"LP","s":"R4","x":2.7028,"y":0.12},{"g":"LP","s":"R4","x":2.7011,"y":0.19},{"g":"LP","s":"R4","x":2.6999,"y":0.37},{"g":"LP","s":"R4","x":2.6991,"y":0.69},{"g":"LP","s":"R4","x":2.6983,"y":1.2},{"g":"LP","s":"R4","x":2.6975,"y":0.69},{"g":"LP","s":"R4","x":2.6967,"y":0.37},{"g":"LP","s":"R4","x":2.6955,"y":0.19},{"g":"LP","s":"R4","x":2.6938,"y":0.12},{"g":"LP","s":"R4","x":2.69,"y":0.085},{"g":"LP","s":"R4","x":2.686,"y":0.065},{"g":"LP","s":"R4","x":2.681,"y":0.095},{"g":"LP","s":"R4","x":2.6765,"y":0.145},{"g":"LP","s":"R4","x":2.6748,"y":0.25},{"g":"LP","s":"R4","x":2.6736,"y":0.52},{"g":"LP","s":"R4","x":2.6728,"y":0.99},{"g":"LP","s":"R4","x":2.672,"y":1.75},{"g":"LP","s":"R4","x":2.6712,"y":0.99},{"g":"LP","s":"R4","x":2.6704,"y":0.52},{"g":"LP","s":"R4","x":2.6692,"y":0.25},{"g":"LP","s":"R4","x":2.6675,"y":0.145},{"g":"LP","s":"R4","x":2.663,"y":0.09},{"g":"LP","s":"R4","x":2.655,"y":0.055},{"g":"LP","s":"R4","x":2.645,"y":0.045},{"g":"LP","s":"R4","x":2.636,"y":0.04},{"g":"LP","s":"R4","x":2.63,"y":0.04},{"g":"LP","s":"R4","x":2.628,"y":0.065},{"g":"LP","s":"R4","x":2.625,"y":0.04},{"g":"LP","s":"R4","x":2.619,"y":0.07},{"g":"LP","s":"R4","x":2.616,"y":0.045},{"g":"LP","s":"R4","x":2.614,"y":0.06},{"g":"LP","s":"R4","x":2.61,"y":0.04},{"g":"LP","s":"R4","x":2.605,"y":0.06},{"g":"LP","s":"R4","x":2.6,"y":0.04},{"g":"LP","s":"R4","x":2.594,"y":0.055},{"g":"LP","s":"R4","x":2.588,"y":0.04},{"g":"LP","s":"R4","x":2.58,"y":0.04},{"g":"LP","s":"R4","x":2.575,"y":0.055},{"g":"LP","s":"R4","x":2.568,"y":0.05},{"g":"LP","s":"R4","x":2.562,"y":0.11},{"g":"LP","s":"R4","x":2.5595,"y":0.16},{"g":"LP","s":"R4","x":2.5578,"y":0.28},{"g":"LP","s":"R4","x":2.5566,"y":0.6},{"g":"LP","s":"R4","x":2.5558,"y":1.15},{"g":"LP","s":"R4","x":2.555,"y":2.04},{"g":"LP","s":"R4","x":2.5542,"y":1.15},{"g":"LP","s":"R4","x":2.5534,"y":0.6},{"g":"LP","s":"R4","x":2.5522,"y":0.3},{"g":"LP","s":"R4","x":2.5505,"y":0.18},{"g":"LP","s":"R4","x":2.546,"y":0.1},{"g":"LP","s":"R4","x":2.541,"y":0.08},{"g":"LP","s":"R4","x":2.537,"y":0.09},{"g":"LP","s":"R4","x":2.5326,"y":0.15},{"g":"LP","s":"R4","x":2.5309,"y":0.23},{"g":"LP","s":"R4","x":2.5297,"y":0.45},{"g":"LP","s":"R4","x":2.5289,"y":0.83},{"g":"LP","s":"R4","x":2.5281,"y":1.45},{"g":"LP","s":"R4","x":2.5273,"y":0.83},{"g":"LP","s":"R4","x":2.5265,"y":0.45},{"g":"LP","s":"R4","x":2.5253,"y":0.23},{"g":"LP","s":"R4","x":2.5236,"y":0.15},{"g":"LP","s":"R4","x":2.52,"y":0.13},{"g":"LP","s":"R4","x":2.515,"y":0.12},{"g":"LP","s":"R4","x":2.51,"y":0.11},{"g":"LP","s":"R4","x":2.5044,"y":0.12}
],
"inset": [
{"g":"HP","s":"G1","x":2.5573,"y":0.4},{"g":"HP","s":"G1","x":2.5568,"y":0.51},{"g":"HP","s":"G1","x":2.5564,"y":0.68},{"g":"HP","s":"G1","x":2.556,"y":0.93},{"g":"HP","s":"G1","x":2.5557,"y":1.25},{"g":"HP","s":"G1","x":2.5554,"y":1.62},{"g":"HP","s":"G1","x":2.5552,"y":1.82},{"g":"HP","s":"G1","x":2.555,"y":1.91},{"g":"HP","s":"G1","x":2.5548,"y":1.82},{"g":"HP","s":"G1","x":2.5546,"y":1.62},{"g":"HP","s":"G1","x":2.5543,"y":1.25},{"g":"HP","s":"G1","x":2.554,"y":0.93},{"g":"HP","s":"G1","x":2.5536,"y":0.68},{"g":"HP","s":"G1","x":2.5532,"y":0.51},{"g":"HP","s":"G1","x":2.5527,"y":0.4},{"g":"HP","s":"G1","x":2.5522,"y":0.34},
{"g":"HP","s":"G2","x":2.5573,"y":0.39},{"g":"HP","s":"G2","x":2.5568,"y":0.5},{"g":"HP","s":"G2","x":2.5564,"y":0.66},{"g":"HP","s":"G2","x":2.556,"y":0.91},{"g":"HP","s":"G2","x":2.5557,"y":1.22},{"g":"HP","s":"G2","x":2.5554,"y":1.57},{"g":"HP","s":"G2","x":2.5552,"y":1.77},{"g":"HP","s":"G2","x":2.555,"y":1.86},{"g":"HP","s":"G2","x":2.5548,"y":1.77},{"g":"HP","s":"G2","x":2.5546,"y":1.57},{"g":"HP","s":"G2","x":2.5543,"y":1.22},{"g":"HP","s":"G2","x":2.554,"y":0.91},{"g":"HP","s":"G2","x":2.5536,"y":0.66},{"g":"HP","s":"G2","x":2.5532,"y":0.5},{"g":"HP","s":"G2","x":2.5527,"y":0.39},{"g":"HP","s":"G2","x":2.5522,"y":0.33},
{"g":"HP","s":"G3","x":2.5573,"y":0.38},{"g":"HP","s":"G3","x":2.5568,"y":0.48},{"g":"HP","s":"G3","x":2.5564,"y":0.64},{"g":"HP","s":"G3","x":2.556,"y":0.88},{"g":"HP","s":"G3","x":2.5557,"y":1.17},{"g":"HP","s":"G3","x":2.5554,"y":1.51},{"g":"HP","s":"G3","x":2.5552,"y":1.7},{"g":"HP","s":"G3","x":2.555,"y":1.79},{"g":"HP","s":"G3","x":2.5548,"y":1.7},{"g":"HP","s":"G3","x":2.5546,"y":1.51},{"g":"HP","s":"G3","x":2.5543,"y":1.17},{"g":"HP","s":"G3","x":2.554,"y":0.88},{"g":"HP","s":"G3","x":2.5536,"y":0.64},{"g":"HP","s":"G3","x":2.5532,"y":0.48},{"g":"HP","s":"G3","x":2.5527,"y":0.38},{"g":"HP","s":"G3","x":2.5522,"y":0.32},
{"g":"HP","s":"G4","x":2.5573,"y":0.37},{"g":"HP","s":"G4","x":2.5568,"y":0.47},{"g":"HP","s":"G4","x":2.5564,"y":0.62},{"g":"HP","s":"G4","x":2.556,"y":0.85},{"g":"HP","s":"G4","x":2.5557,"y":1.13},{"g":"HP","s":"G4","x":2.5554,"y":1.46},{"g":"HP","s":"G4","x":2.5552,"y":1.65},{"g":"HP","s":"G4","x":2.555,"y":1.73},{"g":"HP","s":"G4","x":2.5548,"y":1.65},{"g":"HP","s":"G4","x":2.5546,"y":1.46},{"g":"HP","s":"G4","x":2.5543,"y":1.13},{"g":"HP","s":"G4","x":2.554,"y":0.85},{"g":"HP","s":"G4","x":2.5536,"y":0.62},{"g":"HP","s":"G4","x":2.5532,"y":0.47},{"g":"HP","s":"G4","x":2.5527,"y":0.37},{"g":"HP","s":"G4","x":2.5522,"y":0.31},
{"g":"LP","s":"R1","x":2.5573,"y":0.49},{"g":"LP","s":"R1","x":2.5568,"y":0.62},{"g":"LP","s":"R1","x":2.5564,"y":0.82},{"g":"LP","s":"R1","x":2.556,"y":1.12},{"g":"LP","s":"R1","x":2.5557,"y":1.49},{"g":"LP","s":"R1","x":2.5554,"y":1.92},{"g":"LP","s":"R1","x":2.5552,"y":2.16},{"g":"LP","s":"R1","x":2.555,"y":2.27},{"g":"LP","s":"R1","x":2.5548,"y":2.16},{"g":"LP","s":"R1","x":2.5546,"y":1.92},{"g":"LP","s":"R1","x":2.5543,"y":1.49},{"g":"LP","s":"R1","x":2.554,"y":1.12},{"g":"LP","s":"R1","x":2.5536,"y":0.82},{"g":"LP","s":"R1","x":2.5532,"y":0.62},{"g":"LP","s":"R1","x":2.5527,"y":0.49},{"g":"LP","s":"R1","x":2.5522,"y":0.41},
{"g":"LP","s":"R2","x":2.5573,"y":0.48},{"g":"LP","s":"R2","x":2.5568,"y":0.6},{"g":"LP","s":"R2","x":2.5564,"y":0.79},{"g":"LP","s":"R2","x":2.556,"y":1.09},{"g":"LP","s":"R2","x":2.5557,"y":1.44},{"g":"LP","s":"R2","x":2.5554,"y":1.86},{"g":"LP","s":"R2","x":2.5552,"y":2.1},{"g":"LP","s":"R2","x":2.555,"y":2.2},{"g":"LP","s":"R2","x":2.5548,"y":2.1},{"g":"LP","s":"R2","x":2.5546,"y":1.86},{"g":"LP","s":"R2","x":2.5543,"y":1.44},{"g":"LP","s":"R2","x":2.554,"y":1.09},{"g":"LP","s":"R2","x":2.5536,"y":0.79},{"g":"LP","s":"R2","x":2.5532,"y":0.6},{"g":"LP","s":"R2","x":2.5527,"y":0.48},{"g":"LP","s":"R2","x":2.5522,"y":0.4},
{"g":"LP","s":"R3","x":2.5573,"y":0.47},{"g":"LP","s":"R3","x":2.5568,"y":0.59},{"g":"LP","s":"R3","x":2.5564,"y":0.77},{"g":"LP","s":"R3","x":2.556,"y":1.05},{"g":"LP","s":"R3","x":2.5557,"y":1.4},{"g":"LP","s":"R3","x":2.5554,"y":1.81},{"g":"LP","s":"R3","x":2.5552,"y":2.03},{"g":"LP","s":"R3","x":2.555,"y":2.13},{"g":"LP","s":"R3","x":2.5548,"y":2.03},{"g":"LP","s":"R3","x":2.5546,"y":1.81},{"g":"LP","s":"R3","x":2.5543,"y":1.4},{"g":"LP","s":"R3","x":2.554,"y":1.05},{"g":"LP","s":"R3","x":2.5536,"y":0.77},{"g":"LP","s":"R3","x":2.5532,"y":0.59},{"g":"LP","s":"R3","x":2.5527,"y":0.47},{"g":"LP","s":"R3","x":2.5522,"y":0.39},
{"g":"LP","s":"R4","x":2.5573,"y":0.45},{"g":"LP","s":"R4","x":2.5568,"y":0.57},{"g":"LP","s":"R4","x":2.5564,"y":0.74},{"g":"LP","s":"R4","x":2.556,"y":1.01},{"g":"LP","s":"R4","x":2.5557,"y":1.34},{"g":"LP","s":"R4","x":2.5554,"y":1.73},{"g":"LP","s":"R4","x":2.5552,"y":1.94},{"g":"LP","s":"R4","x":2.555,"y":2.04},{"g":"LP","s":"R4","x":2.5548,"y":1.94},{"g":"LP","s":"R4","x":2.5546,"y":1.73},{"g":"LP","s":"R4","x":2.5543,"y":1.34},{"g":"LP","s":"R4","x":2.554,"y":1.01},{"g":"LP","s":"R4","x":2.5536,"y":0.74},{"g":"LP","s":"R4","x":2.5532,"y":0.57},{"g":"LP","s":"R4","x":2.5527,"y":0.45},{"g":"LP","s":"R4","x":2.5522,"y":0.38}
]
},
"hconcat": [
{
  "width": 200, "height": 310,
  "layer": [
    {
      "data": {"name": "creatine"},
      "mark": {"type": "line", "strokeWidth": 1.2, "clip": true},
      "encoding": {
        "x": {"field": "x", "type": "quantitative", "scale": {"domain": [3.9134, 3.9509], "reverse": true, "nice": false, "zero": false},
              "axis": {"orient": "bottom", "values": [3.95, 3.94, 3.93, 3.92], "format": "~g", "title": "ppm", "labelPadding": 12.5, "titlePadding": 0}},
        "y": {"field": "y", "type": "quantitative", "scale": {"domain": [0.149, 3.229], "nice": false, "zero": false},
              "axis": {"orient": "left", "values": [0.5, 1, 1.5, 2, 2.5, 3], "format": "~g", "title": null, "labelPadding": 7.3}},
        "color": {"field": "g", "type": "nominal", "scale": {"domain": ["HP", "LP"], "range": ["#22dd22", "#ee2222"]},
                  "legend": {"orient": "none", "legendX": 108, "legendY": 12, "title": null, "symbolType": "stroke", "symbolSize": 1444, "symbolStrokeWidth": 1.6, "clipHeight": 22, "rowPadding": 2, "labelOffset": 5, "labelFont": "Liberation Sans", "labelFontSize": 14, "labelColor": "#111111", "padding": 10, "strokeColor": "#4b5878", "fillColor": "white", "cornerRadius": 0}},
        "detail": {"field": "s", "type": "nominal"}
      }
    },
    {
      "data": {"values": [{"label": "CREATINE"}]},
      "mark": {"type": "text", "font": "DejaVu Sans", "fontWeight": "bold", "fontSize": 15, "align": "left", "baseline": "middle", "color": "#000000"},
      "encoding": {
        "x": {"datum": 3.9487, "type": "quantitative", "axis": {"orient": "top", "values": [3.95, 3.94, 3.93, 3.92], "labels": false, "title": null}},
        "y": {"datum": 3.09, "type": "quantitative", "axis": {"orient": "right", "values": [0.5, 1, 1.5, 2, 2.5, 3], "labels": false, "title": null}},
        "text": {"field": "label", "type": "nominal"}
      }
    }
  ],
  "resolve": {"axis": {"x": "independent", "y": "independent"}}
},
{
  "width": 323, "height": 312,
  "layer": [
    {
      "layer": [
        {
          "data": {"name": "citric"},
          "mark": {"type": "line", "strokeWidth": 1.2, "clip": true},
          "encoding": {
            "x": {"field": "x", "type": "quantitative", "scale": {"domain": [2.5044, 2.7062], "reverse": true, "nice": false, "zero": false},
                  "axis": {"orient": "bottom", "values": [2.7, 2.65, 2.6, 2.55], "format": "~g", "title": "ppm", "labelPadding": 12.5, "titlePadding": 5}},
            "y": {"field": "y", "type": "quantitative", "scale": {"domain": [0.026, 2.218], "nice": false, "zero": false},
                  "axis": {"orient": "left", "values": [0.5, 1, 1.5, 2], "format": "~g", "title": null, "labelPadding": 9.5}},
            "color": {"field": "g", "type": "nominal", "scale": {"domain": ["HP", "LP"], "range": ["#22dd22", "#ee2222"]}, "legend": null},
            "detail": {"field": "s", "type": "nominal"}
          }
        },
        {
          "data": {"values": [{"label": "CITRIC ACID"}]},
          "mark": {"type": "text", "font": "DejaVu Sans", "fontWeight": "bold", "fontSize": 15, "align": "left", "baseline": "middle", "color": "#000000"},
          "encoding": {
            "x": {"datum": 2.70125, "type": "quantitative", "axis": {"orient": "top", "values": [2.7, 2.65, 2.6, 2.55], "labels": false, "title": null}},
            "y": {"datum": 2.1, "type": "quantitative", "axis": {"orient": "right", "values": [0.5, 1, 1.5, 2], "labels": false, "title": null}},
            "text": {"field": "label", "type": "nominal"}
          }
        }
      ],
      "resolve": {"axis": {"x": "independent", "y": "independent"}}
    },
    {
      "layer": [
        {
          "data": {"values": [{"box": "inset"}]},
          "mark": {"type": "rect", "fill": "white", "stroke": "#222222", "strokeWidth": 1},
          "encoding": {
            "x": {"datum": 2.5574, "type": "quantitative", "scale": {"domain": [2.5521, 2.5574], "range": [161, 237], "reverse": true, "nice": false, "zero": false}, "axis": null},
            "x2": {"datum": 2.5521},
            "y": {"datum": 0.2, "type": "quantitative", "scale": {"domain": [0.2, 2.3], "range": [174, 21], "nice": false, "zero": false}, "axis": null},
            "y2": {"datum": 2.3}
          }
        },
        {
          "data": {"name": "inset"},
          "mark": {"type": "line", "strokeWidth": 1.2, "interpolate": "monotone"},
          "encoding": {
            "x": {"field": "x", "type": "quantitative", "scale": {"domain": [2.5521, 2.5574], "range": [161, 237], "reverse": true, "nice": false, "zero": false}, "axis": null},
            "y": {"field": "y", "type": "quantitative", "scale": {"domain": [0.2, 2.3], "range": [174, 21], "nice": false, "zero": false}, "axis": null},
            "color": {"field": "g", "type": "nominal", "scale": {"domain": ["HP", "LP"], "range": ["#22dd22", "#ee2222"]}, "legend": null},
            "detail": {"field": "s", "type": "nominal"}
          }
        },
        {
          "data": {"values": [{"tick": 2.555}]},
          "mark": {"type": "rule", "stroke": "#333333", "strokeWidth": 1},
          "encoding": {
            "x": {"field": "tick", "type": "quantitative", "axis": null},
            "y": {"datum": 0.2, "type": "quantitative", "axis": null},
            "y2": {"datum": 0.255}
          }
        },
        {
          "data": {"values": [{"tick": 2.555, "label": "2.555"}]},
          "mark": {"type": "text", "font": "Liberation Sans", "fontSize": 14, "color": "#222222", "align": "center", "baseline": "middle"},
          "encoding": {
            "x": {"field": "tick", "type": "quantitative", "axis": null},
            "y": {"datum": 0.015, "type": "quantitative", "axis": null},
            "text": {"field": "label", "type": "nominal"}
          }
        }
      ]
    }
  ],
  "resolve": {"scale": {"x": "independent", "y": "independent"}, "axis": {"x": "independent", "y": "independent"}}
}
]
}
